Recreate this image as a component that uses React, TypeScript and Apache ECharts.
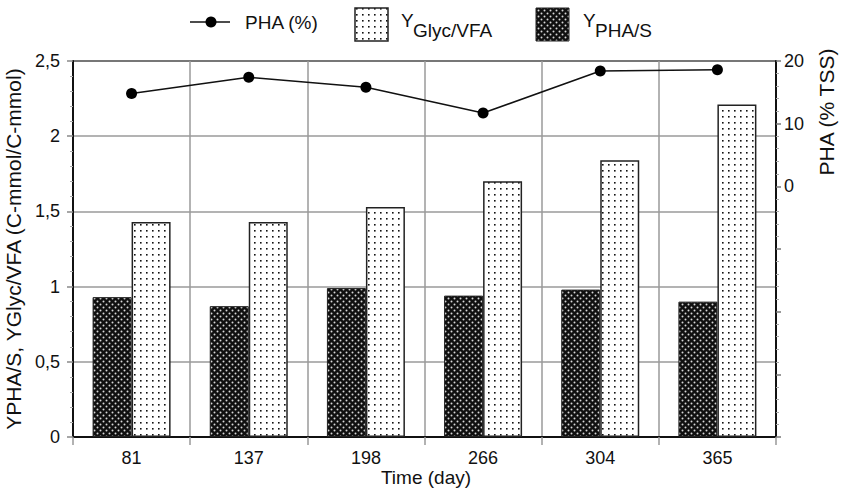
import React, { useEffect, useRef } from "react";
import * as echarts from "echarts";

const days = ["81", "137", "198", "266", "304", "365"];
const yPhaS = [0.93, 0.87, 0.99, 0.94, 0.98, 0.9];
const yGlycVfa = [1.43, 1.43, 1.53, 1.7, 1.84, 2.21];
const phaPct = [14.8, 17.4, 15.8, 11.7, 18.4, 18.6];
const rightTicks = [0, 10, 20];

const FONT = "Liberation Sans";

function makeDotted() {
  const c = document.createElement("canvas");
  c.width = 6;
  c.height = 6;
  const g = c.getContext("2d")!;
  g.fillStyle = "#ffffff";
  g.fillRect(0, 0, 6, 6);
  g.fillStyle = "#111111";
  g.fillRect(2, 2, 1.6, 1.6);
  return c;
}

function makeDark() {
  const c = document.createElement("canvas");
  c.width = 6;
  c.height = 6;
  const g = c.getContext("2d")!;
  g.fillStyle = "#101010";
  g.fillRect(0, 0, 6, 6);
  g.fillStyle = "#d8d8d8";
  g.beginPath();
  g.arc(1.5, 1.5, 1.0, 0, Math.PI * 2);
  g.fill();
  g.beginPath();
  g.arc(4.5, 4.5, 1.0, 0, Math.PI * 2);
  g.fill();
  return c;
}

export default function App() {
  const ref = useRef<HTMLDivElement>(null);
  useEffect(() => {
    if (!ref.current) return;
    const chart = echarts.init(ref.current, null, { renderer: "svg" });
    const dotted = { image: makeDotted(), repeat: "repeat" } as any;
    const dark = { image: makeDark(), repeat: "repeat" } as any;
    const txt = { fontFamily: FONT, fontSize: 19, fill: "#111" };
    chart.setOption({
      animation: false,
      backgroundColor: "#fff",
      grid: {
        left: 73,
        right: 67,
        top: 61,
        bottom: 52,
        show: true,
        borderColor: "#111",
        borderWidth: 2,
        outerBoundsMode: "none",
        containLabel: false,
      },
      xAxis: {
        type: "category",
        data: days,
        axisLine: { lineStyle: { color: "#111", width: 2 } },
        axisTick: { show: true, length: 8, lineStyle: { color: "#999", width: 1.5 } },
        axisLabel: { fontFamily: FONT, fontSize: 18, color: "#111", margin: 12 },
        splitLine: { show: true, lineStyle: { color: "#9a9a9a", width: 1.5 } },
      },
      yAxis: [
        {
          type: "value",
          min: 0,
          max: 2.5,
          interval: 0.5,
          name: "YPHA/S, YGlyc/VFA (C-mmol/C-mmol)",
          nameLocation: "middle",
          nameGap: 45,
          nameTextStyle: { fontFamily: FONT, fontSize: 21, color: "#111" },
          axisLine: { show: true, lineStyle: { color: "#111", width: 2 } },
          axisTick: { show: true, length: 6, lineStyle: { color: "#888", width: 1.5 } },
          minorTick: { show: true, splitNumber: 5, length: 3, lineStyle: { color: "#aaa" } },
          axisLabel: {
            fontFamily: FONT,
            fontSize: 18,
            color: "#111",
            margin: 13,
            formatter: (v: number) => String(v).replace(".", ","),
          },
          splitLine: { show: true, lineStyle: { color: "#9a9a9a", width: 1.5 } },
        },
        {
          type: "value",
          min: -40,
          max: 20,
          interval: 10,
          position: "right",
          axisLine: { show: true, lineStyle: { color: "#111", width: 2 } },
          axisTick: { show: true, length: 5, lineStyle: { color: "#777", width: 1.5 } },
          minorTick: { show: true, splitNumber: 5, length: 3, lineStyle: { color: "#aaa" } },
          axisLabel: {
            fontFamily: FONT,
            fontSize: 18,
            color: "#111",
            margin: 8,
            formatter: (v: number) => (rightTicks.indexOf(v) >= 0 ? String(v) : ""),
          },
          splitLine: { show: false },
        },
      ],
      series: [
        {
          name: "YPHA/S",
          type: "bar",
          data: yPhaS,
          barWidth: 39,
          barGap: "0%",
          itemStyle: { color: dark, borderColor: "#222", borderWidth: 1 },
        },
        {
          name: "YGlyc/VFA",
          type: "bar",
          data: yGlycVfa,
          barWidth: 39,
          barGap: "0%",
          itemStyle: { color: dotted, borderColor: "#222", borderWidth: 1.5 },
        },
        {
          name: "PHA (%)",
          type: "line",
          yAxisIndex: 1,
          data: phaPct,
          symbol: "circle",
          symbolSize: 11,
          lineStyle: { color: "#111", width: 1.5 },
          itemStyle: { color: "#000" },
          z: 5,
        },
      ],
      graphic: [
        { type: "line", shape: { x1: 190, y1: 22, x2: 230, y2: 22 }, style: { stroke: "#111", lineWidth: 1.5 } },
        { type: "circle", shape: { cx: 211, cy: 22, r: 5.5 }, style: { fill: "#000" } },
        { type: "text", x: 245, y: 22, style: { ...txt, text: "PHA (%)", verticalAlign: "middle" } },
        { type: "rect", shape: { x: 355, y: 8, width: 33, height: 33 }, style: { fill: dotted, stroke: "#222", lineWidth: 1.5 } },
        { type: "text", x: 401, y: 20, style: { ...txt, text: "Y", verticalAlign: "middle" } },
        { type: "text", x: 413, y: 30, style: { ...txt, text: "Glyc/VFA", verticalAlign: "middle" } },
        { type: "rect", shape: { x: 536, y: 8, width: 33, height: 33 }, style: { fill: dark, stroke: "#222", lineWidth: 1 } },
        { type: "text", x: 583, y: 20, style: { ...txt, text: "Y", verticalAlign: "middle" } },
        { type: "text", x: 595, y: 30, style: { ...txt, text: "PHA/S", verticalAlign: "middle" } },
        {
          type: "text",
          x: 426,
          y: 477,
          style: { ...txt, text: "Time (day)", align: "center", verticalAlign: "middle" },
        },
        {
          type: "text",
          x: 826,
          y: 112,
          rotation: Math.PI / 2,
          style: { ...txt, fontSize: 21, text: "PHA (% TSS)", align: "center", verticalAlign: "middle" },
        },
      ],
    });
    return () => chart.dispose();
  }, []);
  return <div ref={ref} style={{ position: "absolute", left: 0, top: 0, width: 843, height: 489 }} />;
}
